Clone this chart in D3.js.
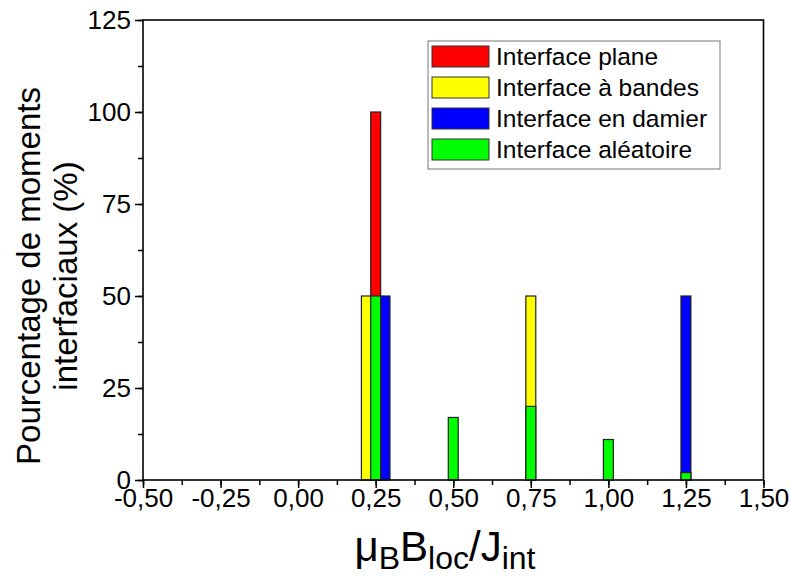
<!DOCTYPE html>
<html><head><meta charset="utf-8">
<script src="https://cdn.jsdelivr.net/npm/d3@7"></script>
<style>body{margin:0;background:#fff}svg{display:block}text{font-family:"Liberation Sans",Arial,sans-serif}</style>
</head><body>
<script>
const seriesNames = ["Interface plane","Interface à bandes","Interface en damier","Interface aléatoire"];
const seriesColors = ["#ff0000","#ffff00","#0000ff","#00ff00"];
const planeX = [0.25], planeY = [100];
const bandesX = [0.22, 0.75], bandesY = [50, 50];
const damierX = [0.28, 1.25], damierY = [50, 50];
const aleatX = [0.25, 0.50, 0.75, 1.00, 1.25], aleatY = [50, 17, 20, 11, 2];
const xTicks = [-0.5,-0.25,0,0.25,0.5,0.75,1.0,1.25,1.5];
const yTicks = [0,25,50,75,100,125];
const barWidth = 0.032;

const W=790,H=577;
const m={l:143,r:763.5,t:20,b:480};
const svg=d3.select("body").append("svg").attr("width",W).attr("height",H);
const x=d3.scaleLinear().domain([-0.5,1.5]).range([m.l,m.r]);
const y=d3.scaleLinear().domain([0,125]).range([m.b,m.t]);
const fmt=d=>d.toFixed(2).replace(".",",");

const series=[
 {x:planeX,y:planeY,c:seriesColors[0]},
 {x:bandesX,y:bandesY,c:seriesColors[1]},
 {x:damierX,y:damierY,c:seriesColors[2]},
 {x:aleatX,y:aleatY,c:seriesColors[3]}
];
const bw=x(barWidth)-x(0);
series.forEach(s=>{
  svg.append("g").selectAll("rect").data(s.x.map((v,i)=>({x:v,y:s.y[i]}))).join("rect")
   .attr("x",d=>x(d.x)-bw/2).attr("width",bw)
   .attr("y",d=>y(d.y)).attr("height",d=>y(0)-y(d.y))
   .attr("fill",s.c).attr("stroke","#222").attr("stroke-width",1.2);
});

// axes
const xMinor=d3.range(-0.5,1.5001,0.125);
const yMinor=d3.range(0,125.001,12.5);
const gx=svg.append("g").attr("transform",`translate(0,${m.b})`);
gx.call(d3.axisBottom(x).tickValues(xMinor).tickSize(5).tickFormat(""));
gx.append("g").call(d3.axisBottom(x).tickValues(xTicks).tickSize(8).tickPadding(1).tickFormat(fmt));
const gy=svg.append("g").attr("transform",`translate(${m.l},0)`);
gy.call(d3.axisLeft(y).tickValues(yMinor).tickSize(5).tickFormat(""));
gy.append("g").call(d3.axisLeft(y).tickValues(yTicks).tickSize(8).tickPadding(4));
svg.selectAll(".domain").remove();
svg.selectAll(".tick line").attr("stroke","#000").attr("stroke-width",1.5);
svg.selectAll(".tick text").attr("font-size",26).attr("fill","#000").attr("font-family","Liberation Sans, Arial, sans-serif");
svg.append("rect").attr("x",m.l).attr("y",m.t).attr("width",m.r-m.l).attr("height",m.b-m.t)
  .attr("fill","none").attr("stroke","#000").attr("stroke-width",1.6);

// legend
const lg=svg.append("g");
lg.append("rect").attr("x",428).attr("y",41).attr("width",292).attr("height",128).attr("fill","#fff").attr("stroke","#777").attr("stroke-width",1);
seriesNames.forEach((n,i)=>{
  const yy=46+i*31;
  lg.append("rect").attr("x",432).attr("y",yy).attr("width",57).attr("height",21).attr("fill",seriesColors[i]).attr("stroke","#333").attr("stroke-width",1);
  lg.append("text").attr("x",496).attr("y",yy+19).attr("font-size",24.5).text(n);
});

// axis titles
const yt=svg.append("text").attr("font-size",33).attr("text-anchor","middle").attr("transform","rotate(-90)");
yt.append("tspan").attr("x",-276).attr("y",40).text("Pourcentage de moments");
yt.append("tspan").attr("x",-276).attr("y",77).text("interfaciaux (%)");

const xt=svg.append("text").attr("x",445).attr("y",561).attr("text-anchor","middle").attr("font-size",42);
xt.append("tspan").text("\u03bc");
xt.append("tspan").attr("font-size",32).attr("dy",8).text("B");
xt.append("tspan").attr("dy",-8).text("B");
xt.append("tspan").attr("font-size",32).attr("dy",8).text("loc");
xt.append("tspan").attr("dy",-8).text("/J");
xt.append("tspan").attr("font-size",32).attr("dy",8).text("int");
</script>
</body></html>
